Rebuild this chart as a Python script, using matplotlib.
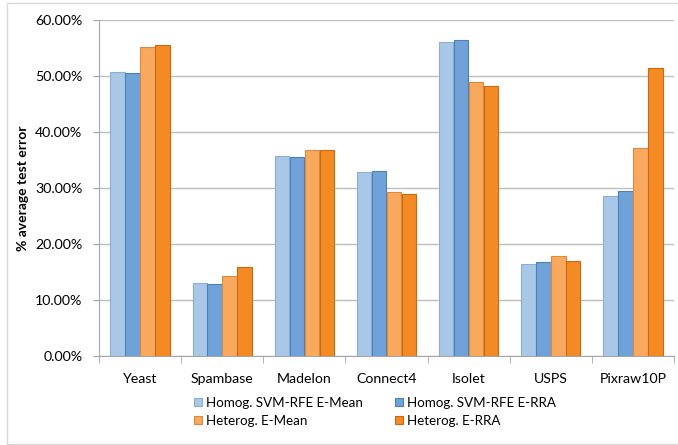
import numpy as np
import matplotlib.pyplot as plt
from matplotlib.patches import Rectangle
from matplotlib.ticker import FuncFormatter

plt.rcParams['font.family'] = ['Lato', 'DejaVu Sans']

datasets = ["Yeast", "Spambase", "Madelon", "Connect4", "Isolet", "USPS", "Pixraw10P"]
homog_mean = [50.7, 13.0, 35.8, 32.9, 56.1, 16.5, 28.5]
homog_rra = [50.5, 12.9, 35.6, 33.1, 56.4, 16.8, 29.5]
heterog_mean = [55.1, 14.2, 36.8, 29.2, 49.0, 17.9, 37.1]
heterog_rra = [55.5, 15.9, 36.7, 29.0, 48.3, 17.0, 51.5]

series = [
    ("Homog. SVM-RFE E-Mean", homog_mean, "#A9C8E8", "#8AAFD6"),
    ("Homog. SVM-RFE E-RRA", homog_rra, "#6FA2D8", "#4E80B8"),
    ("Heterog. E-Mean", heterog_mean, "#F9A95E", "#D98A40"),
    ("Heterog. E-RRA", heterog_rra, "#F38A24", "#C96A12"),
]

fig = plt.figure(figsize=(6.78, 4.45), dpi=100)
# chart-area frame
fig.patches.append(Rectangle((7 / 678, 1 / 445), 1.0, 441 / 445,
                             transform=fig.transFigure, fill=False,
                             edgecolor="#D9D9D9", linewidth=1.0))
ax = fig.add_axes([99 / 678, 89 / 445, 575 / 678, 336 / 445])

x = np.arange(len(datasets))
w = 0.182
for i, (name, vals, color, edge) in enumerate(series):
    ax.bar(x + (i - 1.5) * w, vals, w * 0.97, color=color, edgecolor=edge,
           linewidth=0.8, label=name, zorder=3)

ax.set_xlim(-0.5, len(datasets) - 0.5)
ax.set_ylim(0, 60)
ax.set_yticks(np.arange(0, 61, 10))
ax.yaxis.set_major_formatter(FuncFormatter(lambda v, p: f"{v:.2f}%"))
ax.set_xticks(x)
ax.set_xticklabels(datasets, fontsize=10.2)
ax.set_xticks(np.arange(-0.5, len(datasets), 1), minor=True)
ax.tick_params(axis="x", which="major", length=0, pad=12)
ax.tick_params(axis="x", which="minor", length=5, color="#A6A6A6")
ax.tick_params(axis="y", length=4, color="#A6A6A6", labelsize=10.2, pad=8)
ax.grid(axis="y", color="#BFBFBF", linewidth=1.0, zorder=0)

for s in ["top", "right"]:
    ax.spines[s].set_visible(False)
ax.spines["left"].set_color("#A6A6A6")
ax.spines["bottom"].set_color("#A6A6A6")

ax.set_ylabel("% average test error", fontweight="bold", fontsize=10)
ax.yaxis.set_label_coords(-0.122, 0.5)

# row-wise legend: homogeneous on top, heterogeneous below
handles, labels = ax.get_legend_handles_labels()
order = [0, 2, 1, 3]
fig.legend([handles[k] for k in order], [labels[k] for k in order],
           ncol=2, loc="center", bbox_to_anchor=(0.553, 0.075),
           frameon=False, fontsize=9.6, handlelength=0.6, handleheight=0.6,
           handletextpad=0.3, columnspacing=2.4, labelspacing=0.45)

fig.savefig("out.png", dpi=100)
